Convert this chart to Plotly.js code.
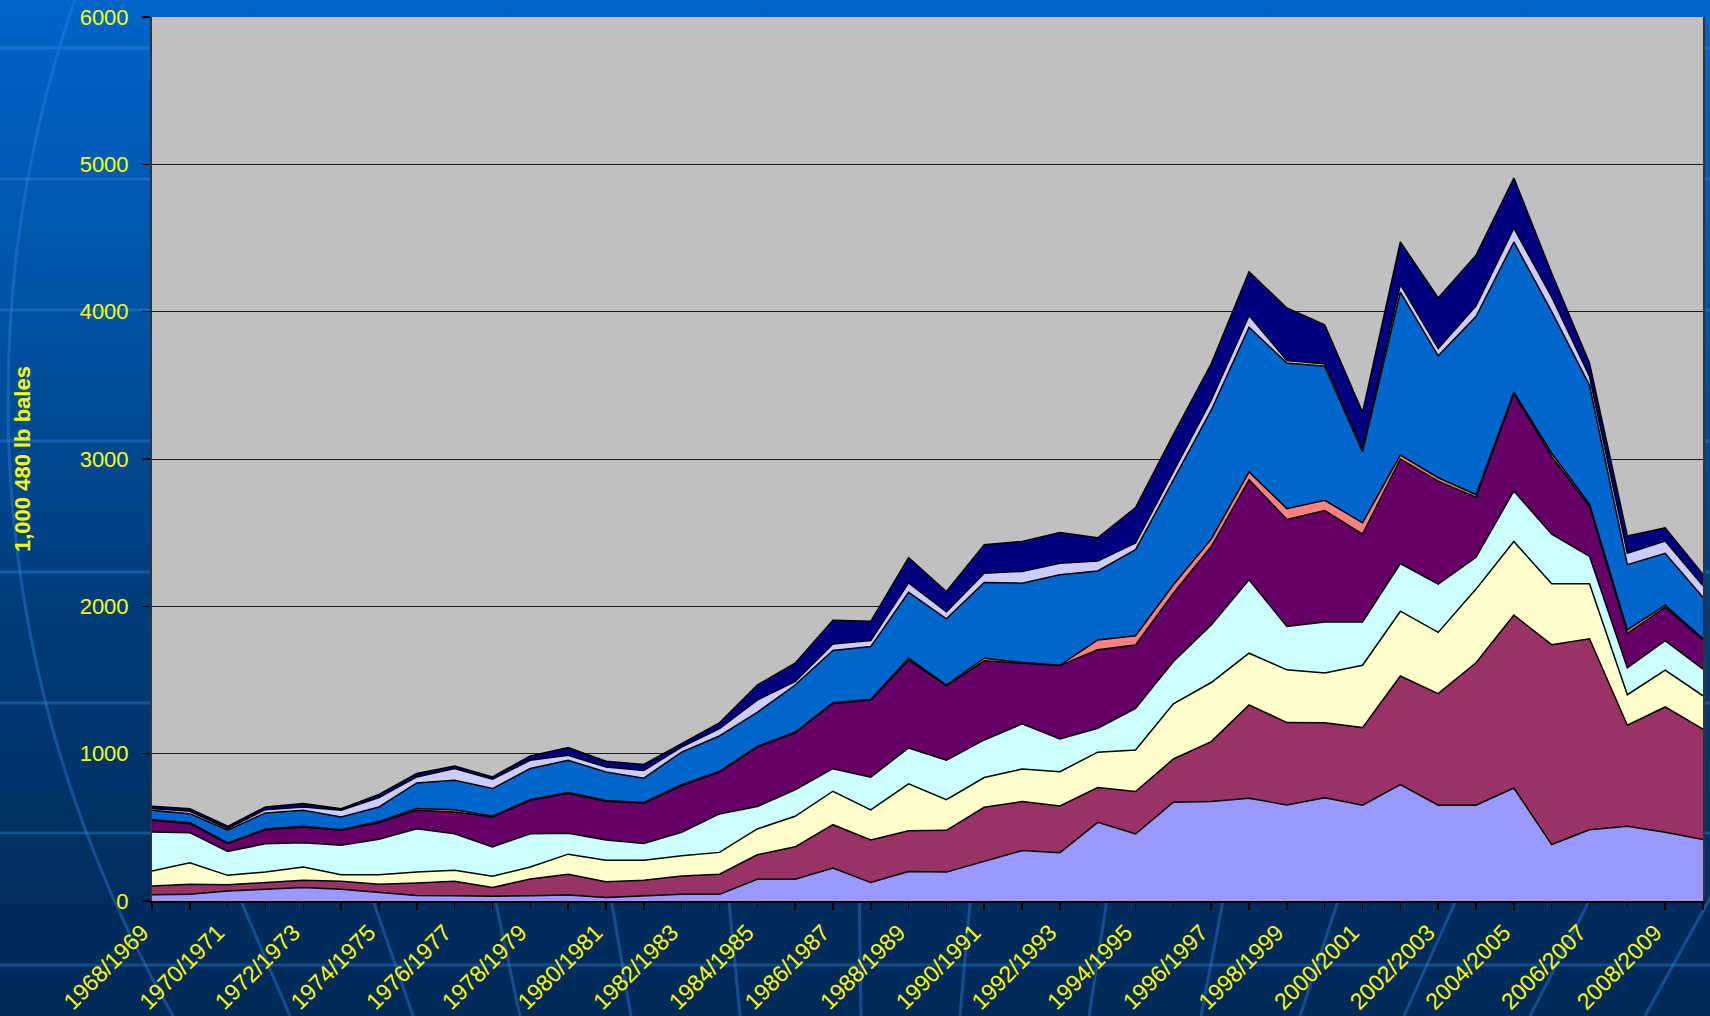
<!DOCTYPE html>
<html>
<head>
<meta charset="utf-8">
<script src="https://cdn.plot.ly/plotly-3.0.1.min.js"></script>
<style>
  html, body { margin: 0; padding: 0; }
  body {
    width: 1710px; height: 1016px; overflow: hidden; position: relative;
    background: linear-gradient(to bottom, #0064C8 0px, #0053A6 300px, #003C78 620px, #002D5E 900px, #002A58 1016px);
  }
  #deco { position: absolute; left: 0; top: 0; z-index: 0; }
  #chart { position: absolute; left: 0; top: 0; width: 1710px; height: 1016px; z-index: 1; }
</style>
</head>
<body>
<svg id="deco" width="1710" height="1016" xmlns="http://www.w3.org/2000/svg">
  <g stroke="rgba(60,140,230,0.35)" stroke-width="3" fill="none">
    <line x1="0" y1="48" x2="1710" y2="48"/>
    <line x1="0" y1="179" x2="1710" y2="179"/>
    <line x1="0" y1="310" x2="1710" y2="310"/>
    <line x1="0" y1="441" x2="1710" y2="441"/>
    <line x1="0" y1="572" x2="1710" y2="572"/>
    <line x1="0" y1="703" x2="1710" y2="703"/>
    <line x1="0" y1="833" x2="1710" y2="833"/>
    <line x1="0" y1="965" x2="1710" y2="965"/>
  </g>
  <g stroke="rgba(50,130,225,0.4)" stroke-width="3" fill="none">
    <circle cx="1240" cy="400" r="1232"/>
    <line x1="232" y1="880" x2="290" y2="1016"/>
    <line x1="366" y1="880" x2="413" y2="1016"/>
    <line x1="491" y1="880" x2="520" y2="1016"/>
    <line x1="608" y1="880" x2="631" y2="1016"/>
    <line x1="727" y1="880" x2="740" y2="1016"/>
    <line x1="859" y1="880" x2="861" y2="1016"/>
    <line x1="972" y1="880" x2="960" y2="1016"/>
    <line x1="1110" y1="880" x2="1089" y2="1016"/>
    <line x1="1227" y1="880" x2="1201" y2="1016"/>
    <line x1="1345" y1="880" x2="1300" y2="1016"/>
    <line x1="1465" y1="880" x2="1404" y2="1016"/>
    <line x1="1600" y1="880" x2="1530" y2="1016"/>
    <line x1="1720" y1="880" x2="1645" y2="1016"/>
  </g>
</svg>
<div id="chart"></div>
<script>
// Seasons (categories)
const seasons = [
  "1968/1969","1969/1970","1970/1971","1971/1972","1972/1973","1973/1974","1974/1975",
  "1975/1976","1976/1977","1977/1978","1978/1979","1979/1980","1980/1981","1981/1982",
  "1982/1983","1983/1984","1984/1985","1985/1986","1986/1987","1987/1988","1988/1989",
  "1989/1990","1990/1991","1991/1992","1992/1993","1993/1994","1994/1995","1995/1996",
  "1996/1997","1997/1998","1998/1999","1999/2000","2000/2001","2001/2002","2002/2003",
  "2003/2004","2004/2005","2005/2006","2006/2007","2007/2008","2008/2009","2009/2010"
];
// Tick labels shown (every other season)
const tickLabels = [
  "1968/1969","","1970/1971","","1972/1973","","1974/1975","","1976/1977","","1978/1979","",
  "1980/1981","","1982/1983","","1984/1985","","1986/1987","","1988/1989","","1990/1991","",
  "1992/1993","","1994/1995","","1996/1997","","1998/1999","","2000/2001","","2002/2003","",
  "2004/2005","","2006/2007","","2008/2009",""
];

// Series values, 1,000 480 lb bales (stacked bottom to top)
const series1 = [43,45,68,79,91,79,61,38,36,32,36,41,23,34,45,45,148,148,223,125,200,196,267,342,328,534,455,670,675,697,652,700,650,790,650,650,767,383,483,507,467,417];
const series2 = [59,68,43,45,49,55,52,84,98,59,113,141,107,107,125,137,166,220,295,289,277,284,369,333,317,236,288,294,407,634,559,510,527,737,757,967,1173,1357,1297,686,850,750];
const series3 = [102,147,63,73,91,45,66,75,74,77,82,136,147,136,137,148,175,207,227,204,318,208,202,221,233,240,282,374,401,351,358,337,423,440,416,500,500,413,373,207,250,226];
const series4 = [265,204,163,192,165,199,240,294,249,199,226,141,137,114,159,261,152,180,153,223,244,267,255,306,222,163,283,287,391,498,294,346,293,323,327,216,343,337,187,183,200,180];
const series5 = [79,61,52,95,107,102,113,125,147,203,227,273,263,273,318,284,404,386,443,523,597,505,537,412,498,532,430,464,532,679,727,757,597,710,700,407,660,527,337,234,226,200];
const series6 = [4,7,5,5,4,4,7,11,16,5,4,4,5,4,5,5,5,4,4,4,12,6,18,5,2,67,62,57,50,53,73,70,77,27,23,17,10,23,16,23,14,7];
const series7 = [64,61,86,109,109,86,99,174,199,188,211,219,193,166,222,240,230,321,355,359,447,449,514,538,614,468,585,714,875,982,988,910,483,1106,827,1210,1020,960,807,443,353,280];
const series8 = [11,16,11,22,22,46,64,41,80,63,56,34,34,52,34,50,84,23,45,41,64,48,63,80,79,68,45,60,68,79,18,15,17,50,50,73,94,100,60,77,83,80];
const series9 = [16,18,16,18,23,11,22,23,18,16,30,52,39,41,23,39,102,125,160,130,171,138,193,203,208,157,240,245,247,297,356,265,250,290,343,343,340,160,90,117,90,77];

const seriesList = [series1, series2, series3, series4, series5, series6, series7, series8, series9];
const seriesNames = ["Series 1","Series 2","Series 3","Series 4","Series 5","Series 6","Series 7","Series 8","Series 9"];
const fillColors = ["#9999FF","#993366","#FFFFCC","#CCFFFF","#660066","#FF8080","#0066CC","#CCCCFF","#000080"];

const traces = seriesList.map((vals, k) => ({
  type: "scatter",
  x: seasons,
  y: vals,
  name: seriesNames[k],
  stackgroup: "one",
  mode: "lines",
  line: { color: "#000000", width: 1.5, shape: "linear" },
  fillcolor: fillColors[k],
  hoverinfo: "skip"
}));

const yellowFont = { family: "Liberation Sans, Arial, sans-serif", color: "#FFFF00", size: 22 };

const layout = {
  width: 1710,
  height: 1016,
  margin: { l: 152, r: 7, t: 17, b: 115, pad: 0 },
  paper_bgcolor: "rgba(0,0,0,0)",
  plot_bgcolor: "#C0C0C0",
  showlegend: false,
  xaxis: {
    type: "category",
    range: [0, seasons.length - 1],
    tickmode: "array",
    tickvals: seasons,
    ticktext: tickLabels,
    tickangle: -45,
    ticklabelshift: -10,
    tickfont: Object.assign({}, yellowFont, { size: 23 }),
    ticks: "outside",
    ticklen: 7,
    tickwidth: 1.5,
    tickcolor: "#000000",
    showline: true,
    linecolor: "#000000",
    linewidth: 2,
    showgrid: false,
    zeroline: false,
    fixedrange: true
  },
  yaxis: {
    range: [0, 6000],
    tickmode: "linear",
    tick0: 0,
    dtick: 1000,
    tickfont: yellowFont,
    ticks: "outside",
    ticklen: 8,
    tickwidth: 1.5,
    tickcolor: "#000000",
    ticklabelstandoff: 9,
    showline: true,
    linecolor: "#333333",
    linewidth: 2,
    mirror: true,
    showgrid: true,
    gridcolor: "#1a1a1a",
    gridwidth: 1,
    zeroline: false,
    fixedrange: true
  },
  annotations: [{
    text: "<b>1,000 480 lb bales</b>",
    xref: "paper", yref: "paper",
    x: (22 - 152) / 1551, y: 0.5,
    xanchor: "center", yanchor: "middle",
    textangle: -90,
    showarrow: false,
    font: { family: "Liberation Sans, Arial, sans-serif", color: "#FFFF00", size: 22 }
  }]
};

Plotly.newPlot("chart", traces, layout, { staticPlot: true, displayModeBar: false });
</script>
</body>
</html>
